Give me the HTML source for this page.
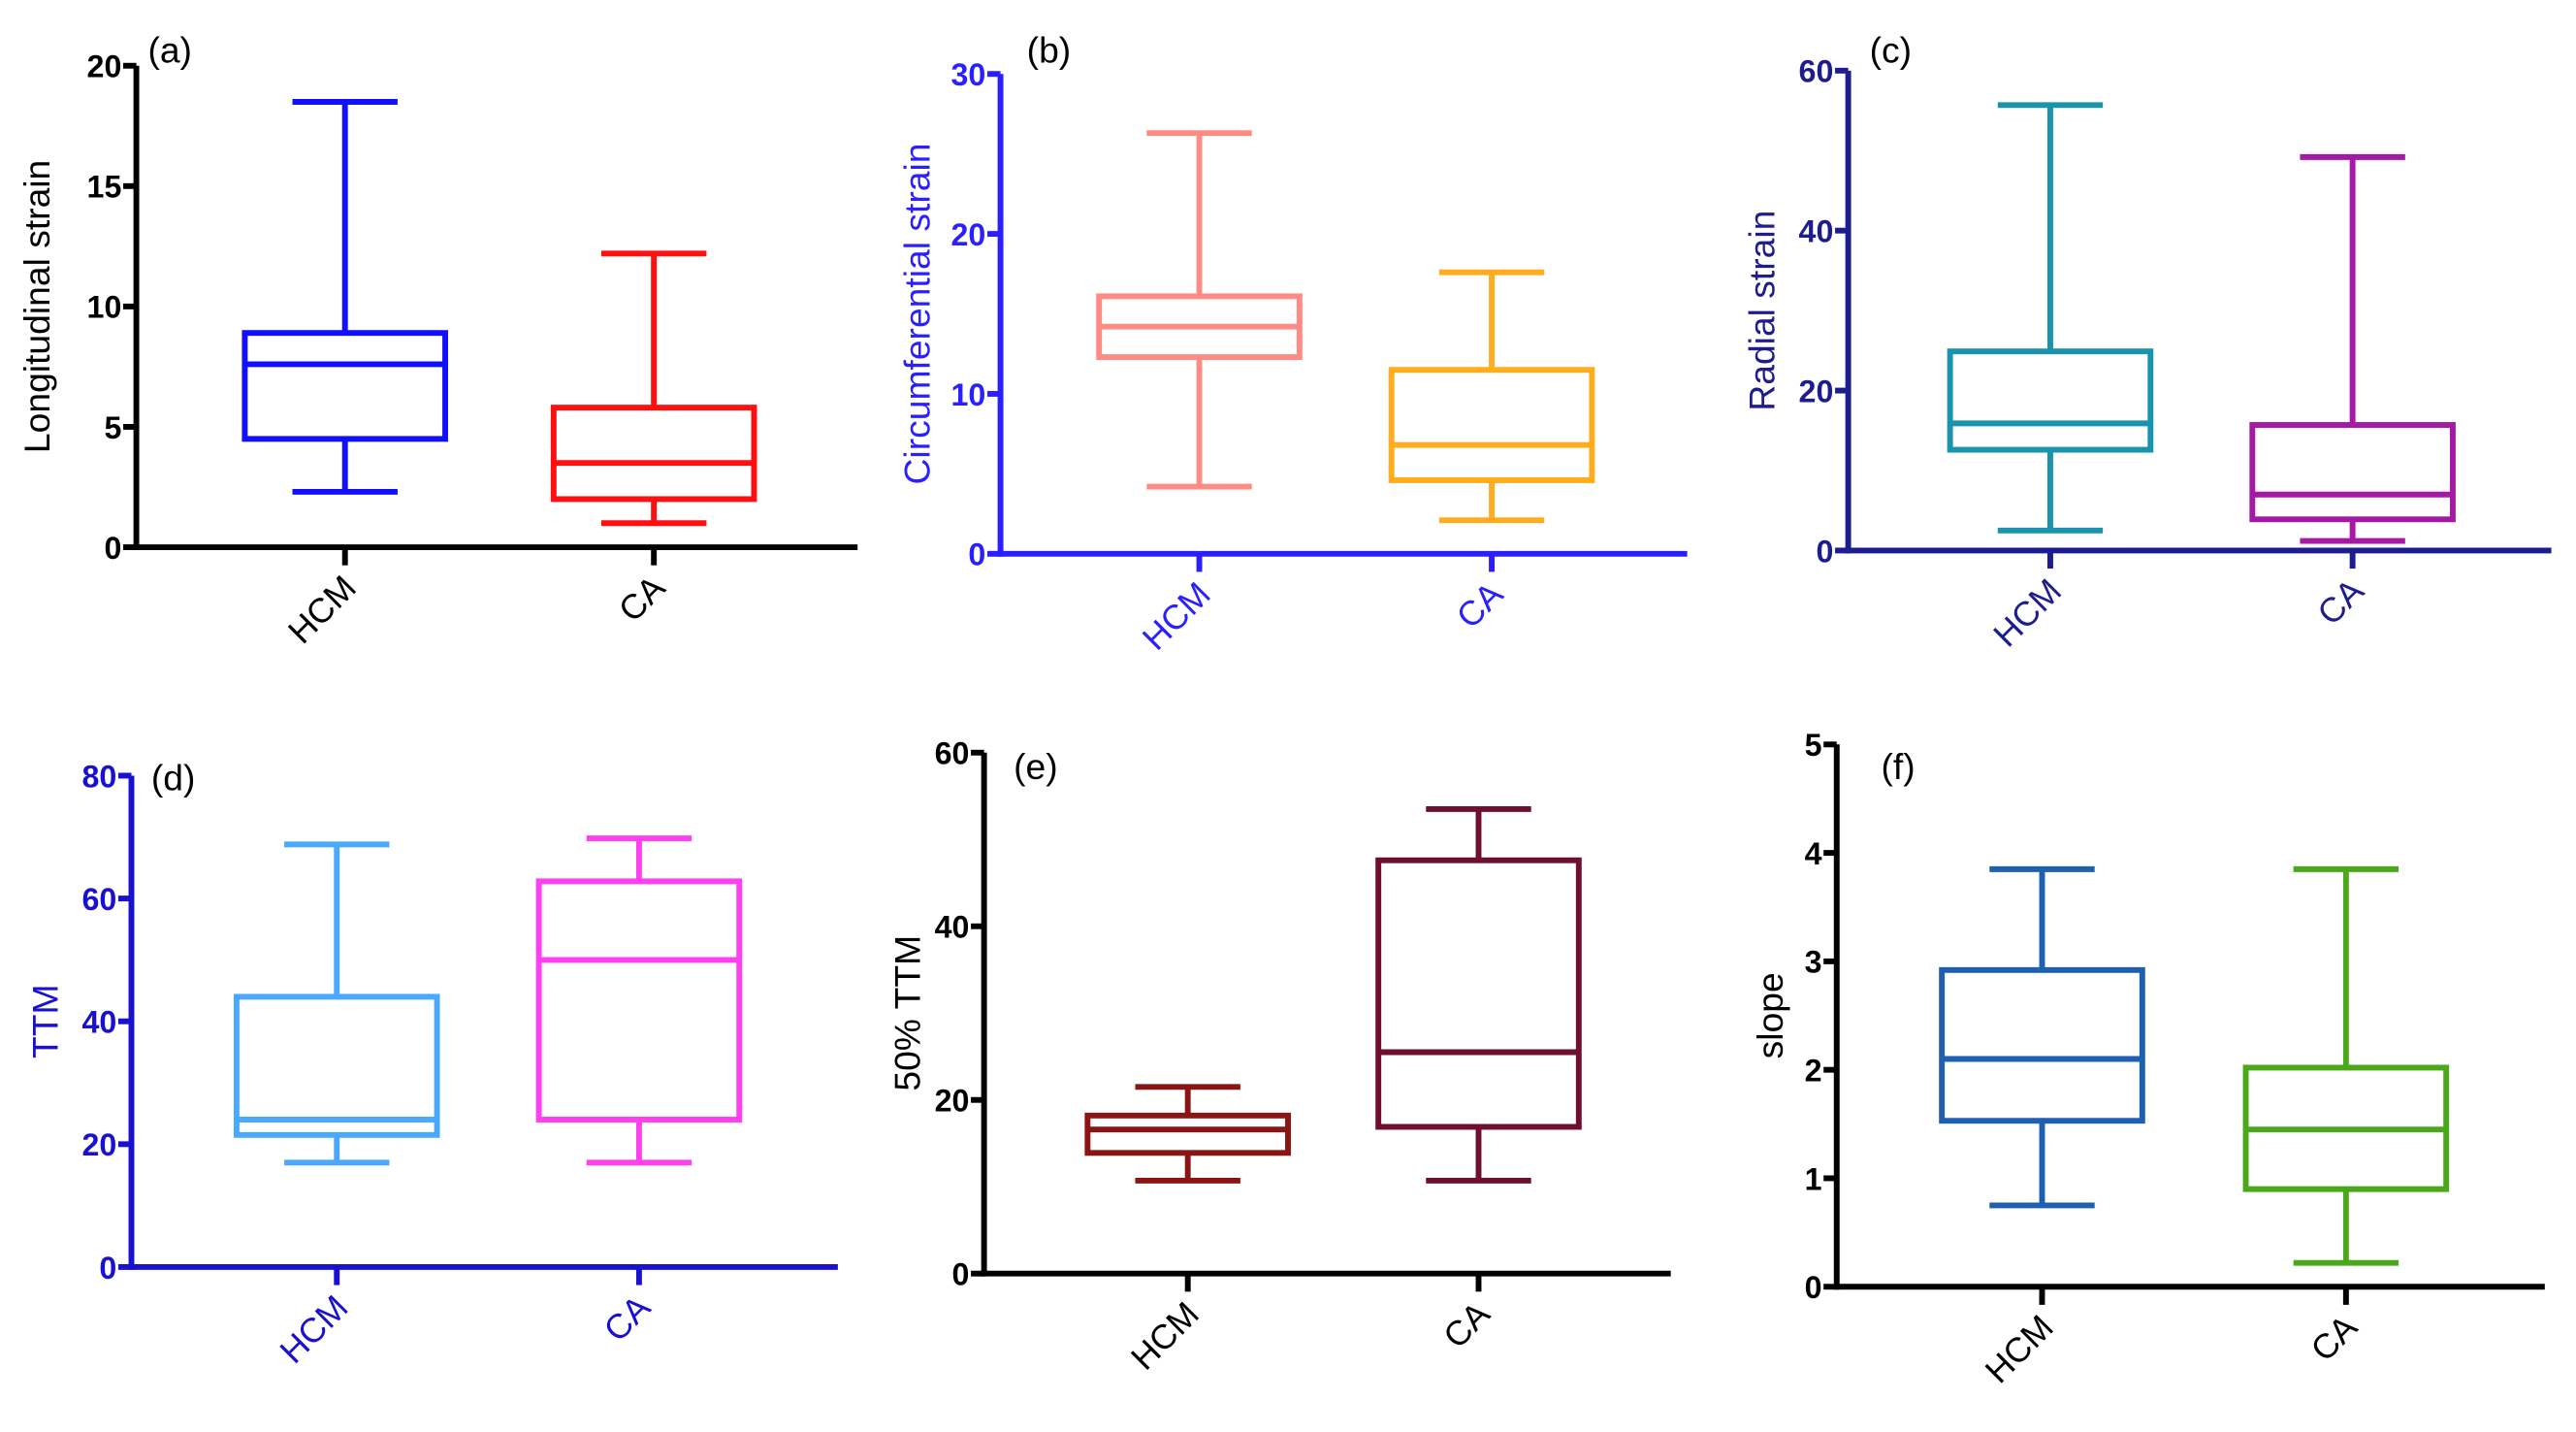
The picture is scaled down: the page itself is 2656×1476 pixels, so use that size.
<!DOCTYPE html>
<html><head><meta charset="utf-8"><style>
html,body{margin:0;padding:0;background:#fff;}
svg{display:block;font-family:"Liberation Sans",Arial,sans-serif;}
</style></head><body>
<svg id="fig" width="2656" height="1476" viewBox="0 0 1568 871.4" preserveAspectRatio="none" xmlns="http://www.w3.org/2000/svg"></svg>
<script>
// Data arrays per panel: [min, q1, median, q3, max]
const categories = ["HCM", "CA"];
const panelLetters = ["(a)", "(b)", "(c)", "(d)", "(e)", "(f)"];
const yTitles = ["Longitudinal strain", "Circumferential strain", "Radial strain", "TTM", "50% TTM", "slope"];
const yTicksA = [0, 5, 10, 15, 20];
const yTicksB = [0, 10, 20, 30];
const yTicksC = [0, 20, 40, 60];
const yTicksD = [0, 20, 40, 60, 80];
const yTicksE = [0, 20, 40, 60];
const yTicksF = [0, 1, 2, 3, 4, 5];
const hcmA = [2.3, 4.5, 7.6, 8.9, 18.5];
const caA = [1.0, 2.0, 3.5, 5.8, 12.2];
const hcmB = [4.2, 12.3, 14.2, 16.1, 26.3];
const caB = [2.1, 4.6, 6.8, 11.5, 17.6];
const hcmC = [2.5, 12.6, 15.9, 24.9, 55.7];
const caC = [1.2, 3.9, 7.0, 15.7, 49.2];
const hcmD = [17, 21.5, 24, 44, 68.8];
const caD = [17, 24, 50, 62.8, 69.8];
const hcmE = [10.7, 13.9, 16.6, 18.2, 21.5];
const caE = [10.7, 16.9, 25.5, 47.6, 53.5];
const hcmF = [0.75, 1.53, 2.1, 2.92, 3.85];
const caF = [0.22, 0.9, 1.45, 2.02, 3.85];

const layouts = [
 {ax:83,y0:333,y1:40,xe:522,cx:[210,398],ticks:yTicksA,series:[hcmA,caA],col:["#1010ff","#ff0f0f"],axc:"#000",tc:"#000",lx:90,ly:38,tx:22,ttl:"#000",key:"a"},
 {ax:609,y0:337,y1:45,xe:1027,cx:[730,908],ticks:yTicksB,series:[hcmB,caB],col:["#ff8c84","#ffad1f"],axc:"#2a1fff",tc:"#2a1fff",lx:625,ly:38,tx:558,ttl:"#2a1fff",key:"b"},
 {ax:1125,y0:335,y1:43,xe:1553,cx:[1248,1432],ticks:yTicksC,series:[hcmC,caC],col:["#1a93ad","#a51aa5"],axc:"#1d1d8f",tc:"#1d1d8f",lx:1138,ly:38,tx:1072,ttl:"#1d1d8f",key:"c"},
 {ax:80,y0:771,y1:472,xe:510,cx:[205,389],ticks:yTicksD,series:[hcmD,caD],col:["#4aa8ff","#ff3ff0"],axc:"#1a10d0",tc:"#1a10d0",lx:92,ly:481,tx:27,ttl:"#1a10d0",key:"d"},
 {ax:599,y0:775,y1:458,xe:1017,cx:[723,900],ticks:yTicksE,series:[hcmE,caE],col:["#8b1414","#6e0f30"],axc:"#000",tc:"#000",lx:617,ly:474,tx:552,ttl:"#000",key:"e"},
 {ax:1118,y0:783,y1:453,xe:1549,cx:[1243,1428],ticks:yTicksF,series:[hcmF,caF],col:["#1f5fb0","#4aa81a"],axc:"#000",tc:"#000",lx:1145,ly:474,tx:1077,ttl:"#000",key:"f"}
];
const NS="http://www.w3.org/2000/svg";
const svg=document.getElementById("fig");
function mk(tag,attrs,parent){const e=document.createElementNS(NS,tag);for(const k in attrs)e.setAttribute(k,attrs[k]);(parent||svg).appendChild(e);return e;}
layouts.forEach((L,pi)=>{
  const g=mk("g",{});
  
  
  const tmax=L.ticks[L.ticks.length-1];
  const ys=v=>L.y0-(v/tmax)*(L.y0-L.y1);
  const sw=3.5;
  const ya=mk("line",{x1:L.ax,y1:L.y1,x2:L.ax,y2:L.y0+1.75,stroke:L.axc,"stroke-width":sw},g);
  
  
  const xa=mk("line",{x1:L.ax-1.75,y1:L.y0,x2:L.xe,y2:L.y0,stroke:L.axc,"stroke-width":sw},g);
  
  
  L.ticks.forEach(t=>{
    const y=ys(t);
    mk("line",{x1:L.ax-8,y1:y,x2:L.ax,y2:y,stroke:L.axc,"stroke-width":sw},g);
    const tl=mk("text",{x:L.ax-9,y:y+7,"text-anchor":"end","font-size":19,"font-weight":"bold",fill:L.tc},g);
    tl.textContent=t;
    
    
  });
  const tt=mk("text",{x:0,y:0,"text-anchor":"middle","font-size":22,fill:L.ttl,transform:`translate(${L.tx+8},${(L.y0+L.y1)/2}) rotate(-90)`},g);
  tt.textContent=yTitles[pi];
  
  
  const pl=mk("text",{x:L.lx,y:L.ly,"font-size":22,fill:"#000"},g);
  pl.textContent=panelLetters[pi];
  
  
  categories.forEach((c,ci)=>{
    const cx=L.cx[ci], d=L.series[ci], col=L.col[ci];
    mk("line",{x1:cx,y1:L.y0,x2:cx,y2:L.y0+11,stroke:L.axc,"stroke-width":sw},g);
    const xl=mk("text",{x:0,y:0,"text-anchor":"end","font-size":21,fill:L.tc,transform:`translate(${cx+8},${L.y0+26}) rotate(-45)`},g);
    xl.textContent=c;
    
    
    const bg=mk("g",{fill:"none",stroke:col,"stroke-width":3.5},g);
    
    
    const hw=61, cw=32;
    mk("line",{x1:cx,y1:ys(d[0]),x2:cx,y2:ys(d[1])},bg);
    mk("line",{x1:cx,y1:ys(d[3]),x2:cx,y2:ys(d[4])},bg);
    mk("line",{x1:cx-cw,y1:ys(d[0]),x2:cx+cw,y2:ys(d[0])},bg);
    mk("line",{x1:cx-cw,y1:ys(d[4]),x2:cx+cw,y2:ys(d[4])},bg);
    mk("rect",{x:cx-hw,y:ys(d[3]),width:2*hw,height:ys(d[1])-ys(d[3])},bg);
    mk("line",{x1:cx-hw,y1:ys(d[2]),x2:cx+hw,y2:ys(d[2])},bg);
  });
});
</script>
</body></html>
